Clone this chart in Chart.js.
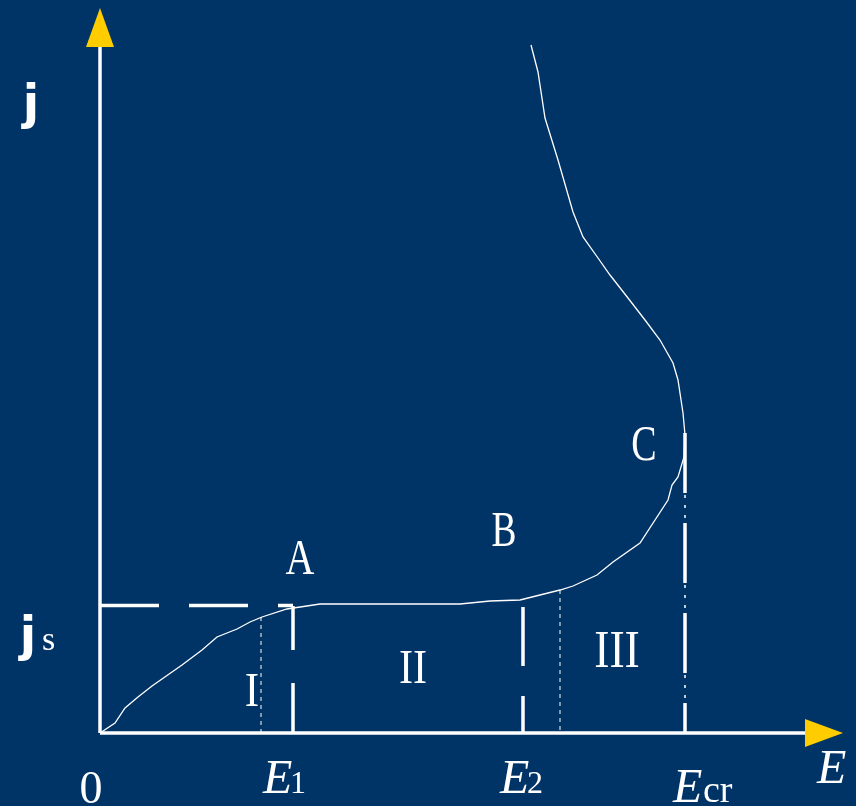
<!DOCTYPE html>
<html>
<head>
<meta charset="utf-8">
<title>j-E</title>
<script src="https://cdn.jsdelivr.net/npm/chart.js@4.4.1/dist/chart.umd.min.js"></script>
<style>
  html, body { margin: 0; padding: 0; background: #003366; }
  canvas { display: block; }
</style>
</head>
<body>
<canvas id="jeChart" width="856" height="806"></canvas>
<script>
// polarisation curve j(E), arbitrary units
var curveE = [0, 0.15, 0.25, 0.38, 0.52, 0.82, 1.02, 1.17, 1.37, 1.50, 1.62, 1.87, 2.20, 3.60, 3.90, 4.20,
  4.60, 4.73, 4.97, 5.13, 5.40, 5.68, 5.72, 5.78, 5.84, 5.85, 5.83, 5.78, 5.73, 5.60, 5.45, 5.28, 5.10,
  4.98, 4.83, 4.73, 4.58, 4.45, 4.38, 4.31];
var curveJ = [0, 0.10, 0.25, 0.36, 0.47, 0.68, 0.83, 0.96, 1.04, 1.11, 1.16, 1.24, 1.29, 1.29, 1.32, 1.33,
  1.43, 1.47, 1.58, 1.71, 1.90, 2.33, 2.48, 2.56, 2.76, 2.98, 3.20, 3.53, 3.70, 3.93, 4.13, 4.35, 4.58,
  4.75, 4.96, 5.21, 5.73, 6.15, 6.61, 6.88];

// characteristic potentials and saturation current
var E1 = 1.93, E2 = 4.23, Ecr = 5.85;
var js = 1.27;
// thin dotted markers at the ends of region I and start of region III
var dotE = [1.61, 4.60];
var dotJ = [1.16, 1.43];
// axis ends (arrow tips)
var axisMaxE = 7.43, axisMaxJ = 7.25;

var WHITE = '#ffffff';
var YELLOW = '#ffcc00';

function seg(x0, y0, x1, y1) { return [{x: x0, y: y0}, {x: x1, y: y1}]; }

function lineSet(data, width, dash) {
  return {
    data: data, showLine: true, borderColor: WHITE, borderWidth: width,
    borderDash: dash || [], pointRadius: 0, tension: 0, fill: false
  };
}

var curve = curveE.map(function (e, i) { return {x: e, y: curveJ[i]}; });

var datasets = [
  lineSet(curve, 1.3),
  // axes
  lineSet(seg(0, 0, 0, axisMaxJ - 0.39), 3.5),
  lineSet(seg(0, 0, axisMaxE - 0.38, 0), 3.5),
  // saturation level and region borders
  lineSet(seg(0, js + 0.006, E1, js + 0.006), 3.5, [59, 30]),
  lineSet(seg(E1, 0, E1, js), 3.5, [50, 33]),
  lineSet(seg(E2, js - 0.01, E2, 0), 3.5, [59, 30]),
  lineSet(seg(Ecr, 2.98, Ecr, 0), 1.5, [3, 7]),
  lineSet(seg(Ecr, 3.00, Ecr, 0), 3.5, [60, 30]),
  lineSet(seg(dotE[0], dotJ[0], dotE[0], 0), 1, [4, 4]),
  lineSet(seg(dotE[1], dotJ[1], dotE[1], 0), 1, [4, 4])
];

// text labels: [text, E, j, font, align, horizontal squeeze]
var labels = [
  ['A', 2.00, 1.59, '50px "Liberation Serif"', 'center', 0.8],
  ['B', 4.04, 1.87, '50px "Liberation Serif"', 'center', 0.75],
  ['C', 5.44, 2.73, '50px "Liberation Serif"', 'center', 0.76],
  ['I', 1.52, 0.27, '48px "Liberation Serif"', 'center', 0.9],
  ['II', 3.13, 0.50, '48px "Liberation Serif"', 'center', 0.88],
  ['III', 5.17, 0.66, '52px "Liberation Serif"', 'center', 0.88],
  ['0', -0.09, -0.70, '46px "Liberation Serif"', 'center', 1],
  ['E', 1.63, -0.60, 'italic 48px "Liberation Serif"', 'left', 1],
  ['1', 1.90, -0.60, '32px "Liberation Serif"', 'left', 1],
  ['E', 4.00, -0.60, 'italic 48px "Liberation Serif"', 'left', 1],
  ['2', 4.27, -0.60, '32px "Liberation Serif"', 'left', 1],
  ['E', 5.73, -0.69, 'italic 48px "Liberation Serif"', 'left', 1],
  ['cr', 6.03, -0.69, '38px "Liberation Serif"', 'left', 1],
  ['E', 7.17, -0.50, 'italic 48px "Liberation Serif"', 'left', 1],
  ['j', -0.69, 6.14, 'bold 48px "DejaVu Sans"', 'center', 1],
  ['j', -0.72, 0.82, 'bold 48px "DejaVu Sans"', 'center', 1],
  ['s', -0.58, 0.83, '34px "Liberation Serif"', 'left', 1]
];

var decorations = {
  id: 'decorations',
  beforeDraw: function (chart) {
    var c = chart.ctx;
    c.save();
    c.fillStyle = '#003366';
    c.fillRect(0, 0, chart.width, chart.height);
    c.restore();
  },
  afterDatasetsDraw: function (chart) {
    var c = chart.ctx, sx = chart.scales.x, sy = chart.scales.y;
    var px = function (v) { return sx.getPixelForValue(v); };
    var py = function (v) { return sy.getPixelForValue(v); };
    c.save();
    c.fillStyle = YELLOW;
    // arrow on j axis
    c.beginPath();
    c.moveTo(px(0), py(axisMaxJ));
    c.lineTo(px(-0.14), py(axisMaxJ - 0.39));
    c.lineTo(px(0.14), py(axisMaxJ - 0.39));
    c.closePath();
    c.fill();
    // arrow on E axis
    c.beginPath();
    c.moveTo(px(axisMaxE), py(0));
    c.lineTo(px(axisMaxE - 0.38), py(0.14));
    c.lineTo(px(axisMaxE - 0.38), py(-0.14));
    c.closePath();
    c.fill();

    c.fillStyle = WHITE;
    c.textBaseline = 'alphabetic';
    labels.forEach(function (l) {
      c.save();
      c.font = l[3];
      c.textAlign = l[4];
      c.translate(px(l[1]), py(l[2]));
      c.scale(l[5], 1);
      c.fillText(l[0], 0, 0);
      c.restore();
    });
    c.restore();
  }
};

new Chart(document.getElementById('jeChart'), {
  type: 'scatter',
  data: { datasets: datasets },
  options: {
    responsive: false,
    animation: false,
    devicePixelRatio: 1,
    layout: { padding: 0 },
    plugins: { legend: { display: false }, tooltip: { enabled: false } },
    scales: {
      x: { type: 'linear', min: -1.00, max: 7.56, display: false },
      y: { type: 'linear', min: -0.73, max: 7.33, display: false }
    }
  },
  plugins: [decorations]
});
</script>
</body>
</html>
